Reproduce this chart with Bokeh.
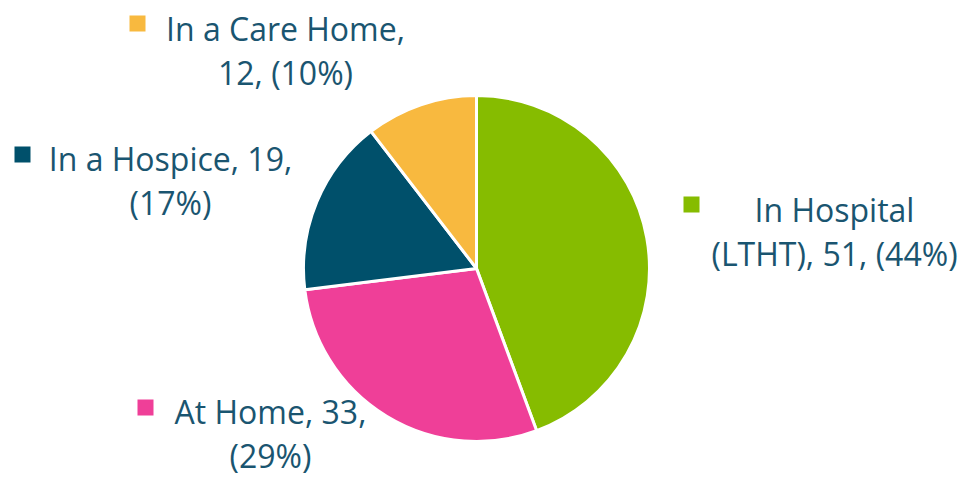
import math
from bokeh.plotting import figure
from bokeh.models import Range1d, ColumnDataSource
from bokeh.core.properties import value
from bokeh.embed import file_html
from bokeh.resources import INLINE

# ---- data ----
categories = ["In Hospital (LTHT)", "At Home", "In a Hospice", "In a Care Home"]
counts = [51, 33, 19, 12]
percents = [44, 29, 17, 10]
colors = ["#86BC00", "#EF3F98", "#00506B", "#F8B93F"]
label_line1 = ["In Hospital", "At Home, 33,", "In a Hospice, 19,", "In a Care Home,"]
label_line2 = ["(LTHT), 51, (44%)", "(29%)", "(17%)", "12, (10%)"]

# ---- layout (screen-like pixel positions, measured from top-left) ----
W, H = 961, 476
pie_cx, pie_cy, r = 476, 268, 173
label_x = [834, 270, 170, 285]
label_y1 = [206, 408, 155, 25]     # cap-middle of first line
line_gap = 44
marker_xy = [(691, 204), (145, 407), (22, 154), (137, 23)]
text_color = "#1A5570"
font_px = 32

def fy(py):
    return H - py

p = figure(width=W, height=H, output_backend="svg", toolbar_location=None,
           x_range=Range1d(0, W), y_range=Range1d(0, H), min_border=0)
p.axis.visible = False
p.grid.visible = False
p.outline_line_color = None
p.background_fill_color = "white"
p.border_fill_color = "white"

total = sum(counts)
starts, ends = [], []
cum = 0
for c in counts:
    starts.append(math.pi / 2 - cum / total * 2 * math.pi)
    cum += c
    ends.append(math.pi / 2 - cum / total * 2 * math.pi)

src = ColumnDataSource(dict(x=[pie_cx] * 4, y=[fy(pie_cy)] * 4, start=starts, end=ends, color=colors))
p.wedge(x="x", y="y", radius=r, start_angle="start", end_angle="end", direction="clock",
        fill_color="color", line_color="white", line_width=3, source=src)

off = 3  # svg 'middle' baseline sits a little below cap-middle
ty1 = [fy(y) - off for y in label_y1]
ty2 = [fy(y + line_gap) - off for y in label_y1]
common = dict(text_align="center", text_baseline="middle",
              text_font=value("Open Sans"), text_font_size=f"{font_px}px", text_color=text_color)
p.text(x=label_x, y=ty1, text=label_line1, **common)
p.text(x=label_x, y=ty2, text=label_line2, **common)

p.scatter(x=[m[0] for m in marker_xy], y=[fy(m[1]) for m in marker_xy], marker="square",
          size=16, fill_color=colors, line_color=None)

open("out.html", "w").write(file_html(p, INLINE))
